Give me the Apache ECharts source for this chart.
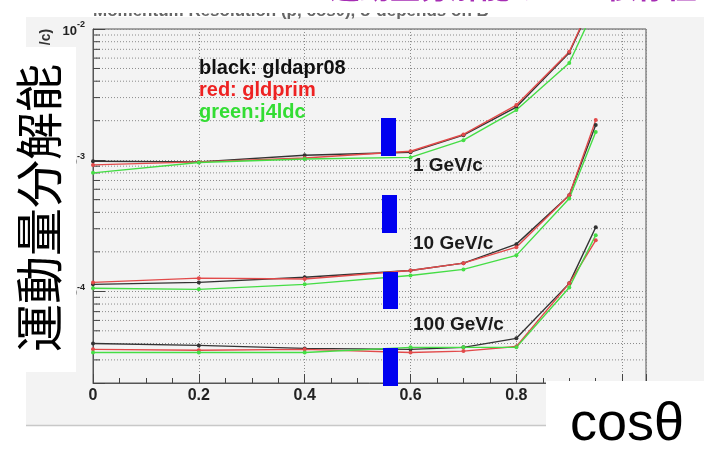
<!DOCTYPE html>
<html><head><meta charset="utf-8">
<script src="https://cdn.jsdelivr.net/npm/echarts@6/dist/echarts.min.js"></script>
<style>html,body{margin:0;padding:0;background:#fff}#c{width:704px;height:452px}</style>
</head><body><div id="c"></div>
<script>
// ---- data ----
const cosTheta = [0, 0.2, 0.4, 0.6, 0.7, 0.8, 0.9, 0.95];
// 1 GeV/c
const p1_black = [9.8e-4, 9.7e-4, 1.09e-3, 1.15e-3, 1.55e-3, 2.54e-3, 6.6e-3, 1.8e-2];
const p1_red   = [9.2e-4, 9.7e-4, 1.04e-3, 1.17e-3, 1.57e-3, 2.63e-3, 6.7e-3, 1.85e-2];
const p1_green = [8.0e-4, 9.6e-4, 1.02e-3, 1.05e-3, 1.42e-3, 2.41e-3, 5.5e-3, 1.5e-2];
// 10 GeV/c
const p10_black = [1.13e-4, 1.17e-4, 1.28e-4, 1.44e-4, 1.64e-4, 2.29e-4, 5.4e-4, 1.85e-3];
const p10_red   = [1.17e-4, 1.26e-4, 1.24e-4, 1.44e-4, 1.64e-4, 2.17e-4, 5.4e-4, 2.02e-3];
const p10_green = [1.055e-4, 1.035e-4, 1.13e-4, 1.32e-4, 1.47e-4, 1.88e-4, 5.1e-4, 1.64e-3];
// 100 GeV/c
const p100_black = [4.0e-5, 3.87e-5, 3.67e-5, 3.61e-5, 3.74e-5, 4.38e-5, 1.15e-4, 3.08e-4];
const p100_red   = [3.61e-5, 3.55e-5, 3.61e-5, 3.42e-5, 3.5e-5, 3.8e-5, 1.15e-4, 2.45e-4];
const p100_green = [3.42e-5, 3.42e-5, 3.42e-5, 3.74e-5, 3.74e-5, 3.74e-5, 1.07e-4, 2.68e-4];
// axis ticks
const yMinorTicks = [3e-5,4e-5,5e-5,6e-5,7e-5,8e-5,9e-5,
  2e-4,3e-4,4e-4,5e-4,6e-4,7e-4,8e-4,9e-4,
  2e-3,3e-3,4e-3,5e-3,6e-3,7e-3,8e-3,9e-3];
const legendTexts = ['black: gldapr08', 'red: gldprim', 'green:j4ldc'];
const momentumLabels = ['1 GeV/c', '10 GeV/c', '100 GeV/c'];
const titleText = 'Momentum Resolution (p, cosθ), σ depends on B';
const slideTitle = '運動量分解能のcosθ依存性';
const yTitle = '運動量分解能';
const xTitle = 'cosθ';

const FONT = '"Liberation Sans", Arial, sans-serif';
const CJK = '"Noto Sans CJK JP", sans-serif';
const COL = {black: '#333333', red: '#e24a4a', green: '#45dd45'};

function pts(arr){ return cosTheta.map((c,i)=>[c, arr[i]]); }
function lineSeries(arr, col){
  return {type:'line', data: pts(arr), symbol:'circle', symbolSize:4, showSymbol:true,
    lineStyle:{color:col, width:1.4}, itemStyle:{color:col}, z:3, silent:true, animation:false, clip:true};
}
function txt(x, y, text, font, fill, align, valign, z, rot){
  const o = {type:'text', z:z, x:x, y:y, style:{text:text, font:font, fill:fill, align:align, verticalAlign:valign}};
  if (rot) o.rotation = rot;
  return o;
}

const chart = echarts.init(document.getElementById('c'), null, {renderer:'canvas'});
const option = {
  backgroundColor:'#ffffff',
  animation:false,
  grid:{left:93, right:58, top:29, bottom:69, show:true, borderColor:'#555', borderWidth:1, backgroundColor:'#f3f3f3'},
  xAxis:{type:'value', min:0, max:1.045, interval:0.2,
    axisLine:{lineStyle:{color:'#555', width:1}},
    axisTick:{inside:true, length:9, lineStyle:{color:'#444'}},
    minorTick:{show:true, splitNumber:4, length:5, lineStyle:{color:'#444'}},
    splitLine:{show:true, lineStyle:{color:'#8a8a8a', type:[1,2], width:1}},
    axisLabel:{fontFamily:FONT, fontWeight:'bold', fontSize:16, color:'#222', margin:5}
  },
  yAxis:{type:'log', logBase:10, min:2e-5, max:1e-2,
    axisLine:{show:true, lineStyle:{color:'#555', width:1}},
    axisTick:{inside:true, length:12, lineStyle:{color:'#444'}},
    splitLine:{show:true, lineStyle:{color:'#8a8a8a', type:[1,2], width:1}},
    axisLabel:{margin:8,
      formatter:function(v){ const e=Math.log10(v), r=Math.round(e); if(Math.abs(e-r)>1e-6) return ''; return '{b|10}{s|'+r+'}'; },
      rich:{ b:{fontFamily:FONT, fontWeight:'bold', fontSize:13, color:'#222', verticalAlign:'bottom', lineHeight:17},
             s:{fontFamily:FONT, fontWeight:'bold', fontSize:9, color:'#222', verticalAlign:'top', lineHeight:17} }
    }
  },
  series:[
    {type:'custom', silent:true, z:1, data: yMinorTicks.map(v=>[0, v]), encode:{x:0, y:1},
      renderItem:function(params, api){
        const p = api.coord([0, api.value(1)]); const cs = params.coordSys;
        return {type:'group', children:[
          {type:'line', shape:{x1:cs.x, y1:p[1], x2:cs.x+cs.width, y2:p[1]}, style:{stroke:'#8a8a8a', lineWidth:1, lineDash:[1,2]}},
          {type:'line', shape:{x1:cs.x, y1:p[1], x2:cs.x+7, y2:p[1]}, style:{stroke:'#444', lineWidth:1}}
        ]};
      }},
    lineSeries(p1_black, COL.black), lineSeries(p1_red, COL.red), lineSeries(p1_green, COL.green),
    lineSeries(p10_black, COL.black), lineSeries(p10_red, COL.red), lineSeries(p10_green, COL.green),
    lineSeries(p100_black, COL.black), lineSeries(p100_red, COL.red), lineSeries(p100_green, COL.green)
  ],
  graphic:[
    // ROOT canvas background
    {type:'rect', z:-10, shape:{x:26, y:17, width:678, height:408}, style:{fill:'#f3f3f3'}},
    {type:'line', z:-9, shape:{x1:26, y1:425.5, x2:704, y2:425.5}, style:{stroke:'#c8c8c8', lineWidth:1.5}},
    // canvas title (cut at top)
    txt(93, 11, titleText, 'bold 17px '+FONT, '#666', 'left', 'middle', 20),
    {type:'rect', z:30, shape:{x:0, y:0, width:704, height:13}, style:{fill:'#fff'}},
    txt(330, -13, slideTitle, 'bold 30px '+CJK, '#a62db4', 'left', 'middle', 40),
    // y title fragment
    txt(46, 37, '/c)', 'bold 14px '+FONT, '#333', 'center', 'middle', 20, Math.PI/2),
    // legend texts
    txt(199, 68, legendTexts[0], 'bold 20px '+FONT, '#111', 'left', 'middle', 20),
    txt(199, 90, legendTexts[1], 'bold 20px '+FONT, '#ee2222', 'left', 'middle', 20),
    txt(199, 112, legendTexts[2], 'bold 20px '+FONT, '#33dd33', 'left', 'middle', 20),
    // momentum labels
    txt(413, 166, momentumLabels[0], 'bold 19px '+FONT, '#1a1a1a', 'left', 'middle', 20),
    txt(413, 244, momentumLabels[1], 'bold 19px '+FONT, '#1a1a1a', 'left', 'middle', 20),
    txt(413, 325, momentumLabels[2], 'bold 19px '+FONT, '#1a1a1a', 'left', 'middle', 20),
    // blue markers
    {type:'rect', z:50, shape:{x:381, y:118, width:15, height:38}, style:{fill:'#0000f0'}},
    {type:'rect', z:50, shape:{x:382, y:195, width:15, height:38}, style:{fill:'#0000f0'}},
    {type:'rect', z:50, shape:{x:383, y:272, width:15, height:37}, style:{fill:'#0000f0'}},
    {type:'rect', z:50, shape:{x:383, y:348, width:15, height:38}, style:{fill:'#0000f0'}},
    {type:'rect', z:50, shape:{x:0, y:348, width:5, height:15}, style:{fill:'#0044ff'}},
    // left white box with vertical title
    {type:'rect', z:60, shape:{x:0, y:47, width:76, height:325}, style:{fill:'#fff'}},
    txt(39, 208, yTitle, '48px '+CJK, '#000', 'center', 'middle', 61, Math.PI/2),
    // bottom-right white box with x title
    {type:'rect', z:60, shape:{x:546, y:381, width:158, height:71}, style:{fill:'#fff'}},
    txt(627, 425, xTitle, '54px '+FONT, '#000', 'center', 'middle', 61)
  ]
};
chart.setOption(option);
</script></body></html>
